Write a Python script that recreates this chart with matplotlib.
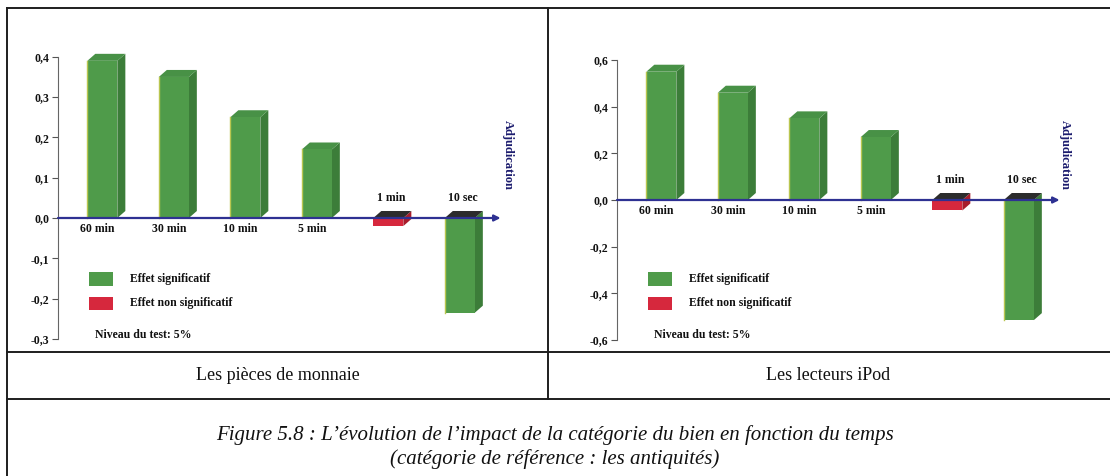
import matplotlib
matplotlib.use("Agg")
import matplotlib.pyplot as plt
from matplotlib.patches import Polygon, Rectangle
from matplotlib.lines import Line2D

# ---- data -------------------------------------------------------------
categories = ["60 min", "30 min", "10 min", "5 min", "1 min", "10 sec"]
coins_values = [0.39, 0.35, 0.25, 0.17, -0.02, -0.235]
ipod_values = [0.55, 0.46, 0.35, 0.27, -0.045, -0.515]
coins_significant = [True, True, True, True, False, True]
ipod_significant = [True, True, True, True, False, True]

coins_ticks = [0.4, 0.3, 0.2, 0.1, 0.0, -0.1, -0.2, -0.3]
coins_ticklabels = ["0,4", "0,3", "0,2", "0,1", "0,0", "-0,1", "-0,2", "-0,3"]
ipod_ticks = [0.6, 0.4, 0.2, 0.0, -0.2, -0.4, -0.6]
ipod_ticklabels = ["0,6", "0,4", "0,2", "0,0", "-0,2", "-0,4", "-0,6"]

panel_titles = ["Les pièces de monnaie", "Les lecteurs iPod"]
legend_labels = ["Effet significatif", "Effet non significatif"]
test_note = "Niveau du test: 5%"
axis_name = "Adjudication"
caption_lines = [
    "Figure 5.8 : L\u2019évolution de l\u2019impact de la catégorie du bien en fonction du temps",
    "(catégorie de référence : les antiquités)",
]

# ---- styling ----------------------------------------------------------
W, H = 1110, 476
SERIF = "Liberation Serif"
GREEN_FRONT, GREEN_TOP, GREEN_SIDE, GREEN_EDGE = "#4f9b4a", "#489146", "#3c7d39", "#b9c650"
RED_FRONT, RED_SIDE = "#d6283d", "#a81d2c"
NEG_TOP = "#2c2c2c"
ARROW = "#2e3192"
LABEL_KW = dict(family=SERIF, fontweight="bold", fontsize=8.5, color="#111111")

fig = plt.figure(figsize=(W / 100, H / 100), dpi=100)
fig.patch.set_facecolor("white")


def fx(x):
    return x / W


def fy(y):
    return 1 - y / H


def draw_panel(box, ylim, values, significant, ticks, ticklabels, legend_x, name_x):
    left, top, right, bottom = box
    ax = fig.add_axes([fx(left), fy(bottom), (right - left) / W, (bottom - top) / H])
    ax.set_xlim(-0.62, 5.85)
    ax.set_ylim(*ylim)
    ax.patch.set_alpha(0)

    # pseudo-3D depth expressed in data units
    sx = (right - left) / (5.85 + 0.62)
    sy = (bottom - top) / (ylim[1] - ylim[0])
    dx, dy = 8 / sx, 7 / sy
    w = 0.42

    for i, (v, sig) in enumerate(zip(values, significant)):
        front = GREEN_FRONT if sig else RED_FRONT
        side = GREEN_SIDE if sig else RED_SIDE
        x0, x1 = i - w / 2, i + w / 2
        if v >= 0:
            top_poly = [(x0, v), (x1, v), (x1 + dx, v + dy), (x0 + dx, v + dy)]
            side_poly = [(x1, 0), (x1, v), (x1 + dx, v + dy), (x1 + dx, dy)]
            top_col = GREEN_TOP if sig else RED_SIDE
        else:
            top_poly = [(x0, 0), (x1, 0), (x1 + dx, dy), (x0 + dx, dy)]
            side_poly = [(x1, v), (x1, 0), (x1 + dx, dy), (x1 + dx, v + dy)]
            top_col = NEG_TOP
        ax.add_patch(Polygon(side_poly, closed=True, fc=side, ec="none", zorder=2))
        ax.add_patch(Polygon(top_poly, closed=True, fc=top_col, ec="none", zorder=2))
        ax.bar(i, v, width=w, color=front, linewidth=0, zorder=3)
        if sig:
            ax.plot([x0, x0], [0, v], color=GREEN_EDGE, lw=1.0, zorder=3.5)

        if v >= 0:
            ax.annotate(categories[i], (i, 0), xytext=(-5, -5), textcoords="offset pixels",
                        ha="center", va="top", zorder=6, **LABEL_KW)
        else:
            ax.annotate(categories[i], (i, 0), xytext=(3, 14), textcoords="offset pixels",
                        ha="center", va="bottom", zorder=6, **LABEL_KW)

    # horizontal time axis drawn as an arrow
    ax.annotate("", xy=(5.57, 0), xytext=(-0.62, 0),
                arrowprops=dict(arrowstyle="-|>", color=ARROW, lw=1.6,
                                mutation_scale=9, shrinkA=0, shrinkB=0),
                zorder=7)

    ax.set_yticks(ticks)
    ax.set_yticklabels(ticklabels, **LABEL_KW)
    ax.tick_params(axis="y", direction="out", length=4, width=0.8, color="#555555", pad=2)
    ax.set_xticks([])
    for s in ("top", "right", "bottom"):
        ax.spines[s].set_visible(False)
    ax.spines["left"].set_bounds(min(ticks), max(ticks))
    ax.spines["left"].set_color("#666666")
    ax.spines["left"].set_linewidth(0.8)

    fig.text(fx(name_x), fy(155), axis_name, rotation=-90, ha="center", va="center",
             family=SERIF, fontweight="bold", fontsize=9, color="#1c1c6e")

    # legend
    fig.patches.append(Rectangle((fx(legend_x), fy(286)), 24 / W, 14 / H,
                                 transform=fig.transFigure, fc=GREEN_FRONT, ec="none"))
    fig.patches.append(Rectangle((fx(legend_x), fy(310)), 24 / W, 13 / H,
                                 transform=fig.transFigure, fc=RED_FRONT, ec="none"))
    fig.text(fx(legend_x + 41), fy(279), legend_labels[0], ha="left", va="center", **LABEL_KW)
    fig.text(fx(legend_x + 41), fy(303), legend_labels[1], ha="left", va="center", **LABEL_KW)
    fig.text(fx(legend_x + 6), fy(335), test_note, ha="left", va="center", **LABEL_KW)
    return ax


draw_panel((58, 40, 520.6, 360), (-0.3524, 0.4417), coins_values, coins_significant,
           coins_ticks, coins_ticklabels, legend_x=89, name_x=508)
draw_panel((617, 40, 1079.6, 360), (-0.686, 0.686), ipod_values, ipod_significant,
           ipod_ticks, ipod_ticklabels, legend_x=648, name_x=1065)

# ---- surrounding table ------------------------------------------------
line_kw = dict(color="#1e1e1e", lw=1.4, transform=fig.transFigure)
fig.lines += [
    Line2D([fx(7), fx(1110)], [fy(8), fy(8)], **line_kw),
    Line2D([fx(7), fx(7)], [fy(8), fy(476)], **line_kw),
    Line2D([fx(7), fx(1110)], [fy(352), fy(352)], **line_kw),
    Line2D([fx(7), fx(1110)], [fy(399), fy(399)], **line_kw),
    Line2D([fx(548), fx(548)], [fy(8), fy(399)], **line_kw),
]

fig.text(fx(278), fy(376), panel_titles[0], ha="center", va="center",
         family=SERIF, fontsize=13, color="#111111")
fig.text(fx(828), fy(376), panel_titles[1], ha="center", va="center",
         family=SERIF, fontsize=13, color="#111111")
fig.text(fx(555), fy(435), caption_lines[0], ha="center", va="center",
         family=SERIF, style="italic", fontsize=15, color="#111111")
fig.text(fx(555), fy(459), caption_lines[1], ha="center", va="center",
         family=SERIF, style="italic", fontsize=15, color="#111111")

fig.savefig("out.png", dpi=100, facecolor="white")
